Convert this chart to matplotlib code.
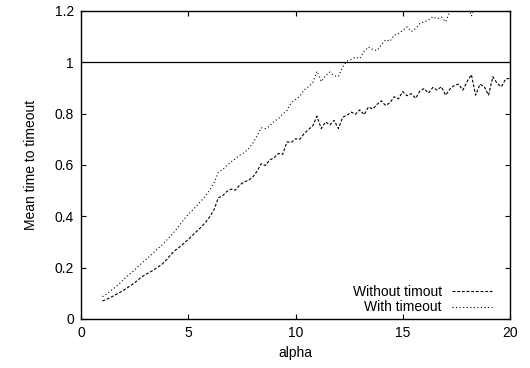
import numpy as np
import matplotlib
matplotlib.use("Agg")
import matplotlib.pyplot as plt

plt.rcParams['font.family'] = ['Liberation Sans', 'DejaVu Sans']

# alpha grid (step 0.2 from 1 to 20)
alpha = np.round(np.arange(1.0, 20.0001, 0.2), 1)

without_timeout = [
    0.070, 0.077, 0.085, 0.094, 0.103, 0.113, 0.124, 0.135, 0.148, 0.162,
    0.173, 0.182, 0.192, 0.203, 0.215, 0.232, 0.252, 0.268, 0.281, 0.295,
    0.310, 0.326, 0.342, 0.358, 0.376, 0.398, 0.425, 0.472, 0.480, 0.497,
    0.506, 0.502, 0.522, 0.534, 0.540, 0.552, 0.575, 0.605, 0.598, 0.620,
    0.628, 0.645, 0.641, 0.690, 0.688, 0.702, 0.700, 0.722, 0.738, 0.752,
    0.790, 0.742, 0.768, 0.756, 0.774, 0.742, 0.786, 0.794, 0.806, 0.798,
    0.815, 0.796, 0.826, 0.818, 0.836, 0.850, 0.832, 0.842, 0.866, 0.858,
    0.886, 0.870, 0.878, 0.860, 0.888, 0.898, 0.880, 0.902, 0.892, 0.905,
    0.872, 0.896, 0.910, 0.915, 0.892, 0.925, 0.952, 0.872, 0.915, 0.905,
    0.872, 0.944, 0.918, 0.905, 0.935, 0.938,
]

with_timeout = [
    0.087, 0.098, 0.111, 0.124, 0.138, 0.155, 0.170, 0.184, 0.199, 0.215,
    0.230, 0.244, 0.260, 0.276, 0.290, 0.308, 0.325, 0.345, 0.366, 0.388,
    0.408, 0.424, 0.442, 0.460, 0.480, 0.502, 0.530, 0.572, 0.582, 0.598,
    0.612, 0.625, 0.638, 0.648, 0.662, 0.684, 0.712, 0.745, 0.742, 0.752,
    0.770, 0.780, 0.798, 0.812, 0.842, 0.855, 0.868, 0.892, 0.905, 0.920,
    0.965, 0.925, 0.948, 0.962, 0.948, 0.945, 0.982, 1.005, 1.012, 1.020,
    1.015, 1.042, 1.060, 1.050, 1.046, 1.068, 1.088, 1.082, 1.106, 1.112,
    1.124, 1.138, 1.120, 1.132, 1.152, 1.158, 1.165, 1.178, 1.170, 1.176,
    1.158, 1.198, 1.215, 1.212, 1.222, 1.235, 1.180, 1.240, 1.250, 1.245,
    1.198, 1.262, 1.270, 1.275, 1.280, 1.290,
]

x_ticks = [0, 5, 10, 15, 20]
y_ticks = [0, 0.2, 0.4, 0.6, 0.8, 1.0, 1.2]
y_tick_labels = ["0", "0.2", "0.4", "0.6", "0.8", "1", "1.2"]

fig = plt.figure(figsize=(5.30, 3.68), dpi=100)
ax = fig.add_axes([81 / 530, 49 / 368, 429 / 530, 308 / 368])

ax.plot(alpha, without_timeout, color="black", lw=0.8,
        linestyle=(0, (2.6, 1.6)), label="Without timout")
ax.plot(alpha, with_timeout, color="black", lw=0.8,
        linestyle=(0, (1.0, 2.2)), label="With timeout")
ax.axhline(1.0, color="black", lw=0.9)

ax.set_xlim(0, 20)
ax.set_ylim(0, 1.2)
ax.set_xticks(x_ticks)
ax.set_yticks(y_ticks)
ax.set_yticklabels(y_tick_labels)
ax.tick_params(direction="in", length=3.5, width=0.8, top=True, right=True,
               labelsize=10, pad=5, colors="black")
for s in ax.spines.values():
    s.set_linewidth(1.0)

ax.set_xlabel("alpha", fontsize=10, labelpad=4)
ax.set_ylabel("Mean time to timeout", fontsize=10, labelpad=12)

leg = ax.legend(loc="lower right", bbox_to_anchor=(0.958, 0.015), frameon=False,
                markerfirst=False, fontsize=10, handlelength=2.9,
                handletextpad=0.7, labelspacing=0.1, borderaxespad=0.0,
                borderpad=0.0)

fig.savefig("out.png", dpi=100)
